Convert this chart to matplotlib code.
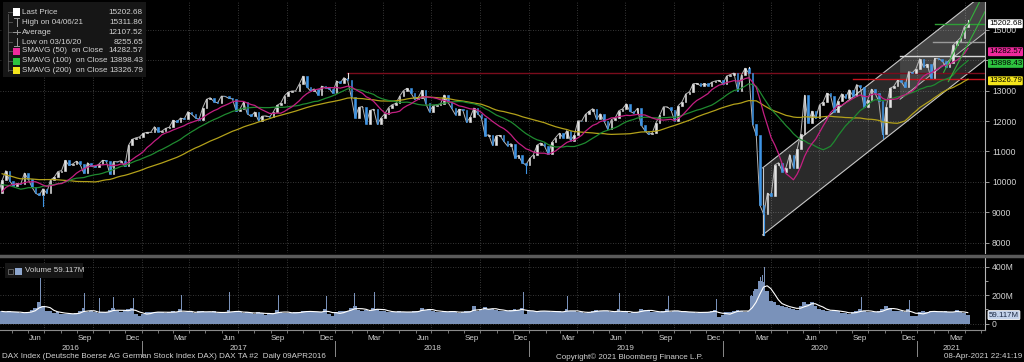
import matplotlib
matplotlib.use('Agg')
import matplotlib.pyplot as plt
import matplotlib.dates as mdates
import matplotlib.transforms as mtrans
from matplotlib.patches import Rectangle, Polygon
from matplotlib.lines import Line2D
import numpy as np
import pandas as pd

W, H = 1024, 362

# weekly closes (Friday), first value is week ending 19 Jun 2015
close_2015 = [11040, 11490,
              11060, 11320, 11670, 11350, 11310,
              11490, 10985, 10120, 10300,
              10040, 10120, 9920, 9690,
              9550, 10100, 10100, 10790, 10850,
              10990, 10710, 11120, 11290,
              10750, 10340, 10610, 10730]
close_2016 = [10740, 9850, 9545, 9765, 9800,
              9290, 8970, 9390, 9510,
              9820, 9830, 9950, 9850,
              9795, 9620, 10050, 10370, 10040,
              9870, 9950, 9920, 10290,
              10100, 9835, 9630, 9560,
              9775, 9630, 10065, 10150, 10340,
              10370, 10710, 10540, 10590,
              10680, 10575, 10280, 10630, 10510,
              10490, 10580, 10710, 10700,
              10260, 10670, 10660, 10700,
              10510, 11200, 11400, 11450, 11480]
close_2017 = [11600, 11630, 11630, 11815,
              11650, 11670, 11760, 11800,
              12030, 11960, 12100, 12065, 12310,
              12225, 12110, 12050, 12440,
              12715, 12770, 12640, 12600,
              12820, 12815, 12750, 12730, 12325,
              12390, 12630, 12240, 12160,
              12300, 12015, 12165, 12170,
              12140, 12300, 12520, 12590, 12830,
              12955, 12990, 12990, 13220,
              13480, 13130, 12990, 13060,
              12860, 13150, 13100, 13070, 12920]
close_2018 = [13320, 13245, 13430, 13340,
              12790, 12110, 12450, 12480,
              11910, 12350, 12390, 11890, 12100,
              12240, 12440, 12540, 12580,
              12820, 13000, 13080, 12940,
              12720, 12770, 13010, 12580, 12310,
              12500, 12540, 12560, 12860,
              12620, 12420, 12210, 12390, 12360,
              11960, 12120, 12430, 12250,
              12110, 11520, 11550, 11200,
              11520, 11530, 11340, 11190, 11260,
              10790, 10870, 10630, 10560]
close_2019 = [10770, 10890, 11210, 11280,
              11180, 10910, 11300, 11460,
              11600, 11460, 11690, 11360, 11530,
              12010, 12000, 12220, 12320,
              12410, 12060, 12240, 12010, 11730,
              12050, 12100, 12340, 12400,
              12570, 12320, 12260, 12420,
              11870, 11690, 11560, 11610, 11940,
              12190, 12470, 12470, 12380,
              12010, 12510, 12630, 12890,
              12960, 13230, 13240, 13160, 13240,
              13170, 13280, 13320, 13340]
close_2020 = [13220, 13480, 13530, 13580, 12980,
              13510, 13740, 13580, 11890,
              11540, 9230, 8930, 9630,
              9530, 10560, 10630, 10340,
              10470, 10900, 10470, 11070, 11590,
              12850, 11950, 12330, 12090,
              12530, 12630, 12920, 12840, 12310,
              12670, 12900, 12760, 13030,
              12840, 13200, 13120, 12470,
              12690, 13050, 12910, 12650, 11560,
              12480, 13080, 13140, 13340,
              13300, 13110, 13630, 13590]
close_2021 = [13720, 14050, 13790, 13870, 13430,
              14060, 14050, 13990, 13790,
              13920, 14500, 14620, 14750,
              15110, 15202.68]

# weekly extremes that stick out of the candle bodies
wick_low_dates = ['2016-07-01', '2018-12-28', '2020-03-20', '2020-10-30']
wick_low_values = [9214, 10280, 8255.65, 11450]
wick_high_dates = ['2018-01-26', '2020-02-21', '2021-04-09']
wick_high_values = [13597, 13795, 15311.86]

# weekly volume in millions, from week ending 15 Apr 2016
vol_2016 = [85, 80, 85,
            78, 80, 75, 72,
            82, 95, 110, 150,
            120, 90, 85, 75, 80,
            70, 68, 65, 70,
            72, 85, 110, 80, 85,
            80, 75, 78, 82,
            95, 110, 85, 80,
            95, 100, 110, 65, 50]
vol_2017 = [70, 80, 78, 80,
            82, 78, 76, 80,
            85, 82, 100, 80, 78,
            82, 75, 88, 85,
            80, 78, 85, 72,
            75, 78, 95, 80, 85,
            80, 75, 78, 72,
            70, 80, 72, 62,
            68, 72, 95, 80, 75,
            72, 75, 78, 82,
            85, 90, 82, 78,
            80, 82, 105, 70, 50]
vol_2018 = [80, 85, 90, 88,
            110, 125, 95, 85,
            95, 90, 110, 105, 90,
            85, 80, 82, 80,
            85, 80, 78, 82,
            85, 88, 110, 95, 100,
            85, 80, 82, 90,
            78, 85, 82, 75, 78,
            85, 88, 120, 90,
            95, 115, 100, 105,
            95, 90, 88, 85, 92,
            100, 95, 110, 70]
vol_2019 = [85, 90, 88, 85,
            88, 85, 80, 82,
            85, 80, 100, 90, 85,
            80, 78, 75, 80,
            90, 95, 88, 85, 90,
            80, 78, 100, 80,
            78, 75, 80, 82,
            100, 95, 90, 82, 78,
            80, 85, 100, 82,
            88, 85, 80, 82,
            78, 80, 75, 78, 80,
            82, 88, 95, 45]
vol_2020 = [60, 78, 80, 85, 95,
            90, 80, 85, 190,
            240, 300, 290, 230,
            160, 150, 130, 120,
            115, 110, 105, 95, 120,
            150, 135, 150, 120,
            100, 95, 90, 88, 95,
            85, 75, 72, 70,
            80, 85, 100, 90,
            82, 78, 80, 85, 100,
            120, 110, 90, 85,
            88, 82, 100, 55]
vol_2021 = [50, 80, 85, 80, 90,
            85, 78, 80, 85,
            80, 78, 95, 80,
            72, 59.117]

# single-day volume spikes (millions)
spike_dates = ['2016-06-24', '2016-09-16', '2016-10-14', '2016-11-09', '2016-12-16',
               '2017-03-17', '2017-06-16', '2017-09-15', '2017-12-15', '2018-02-06',
               '2018-03-16', '2018-06-15', '2018-09-21', '2018-12-21', '2019-03-15',
               '2019-06-21', '2019-09-20', '2019-12-20', '2020-02-24', '2020-02-28',
               '2020-03-09', '2020-03-12', '2020-03-16', '2020-03-20', '2020-06-19',
               '2020-09-18', '2020-11-09', '2020-12-18', '2021-03-19']
spike_values = [328, 216, 180, 188, 181,
                200, 223, 200, 193, 213,
                220, 265, 415, 223, 195,
                214, 195, 172, 200, 230,
                290, 330, 340, 395, 230,
                186, 193, 165, 207]

# annotation levels drawn on the chart
level_starts = ['2018-01-23', '2020-09-03', '2020-11-30', '2021-01-31', '2021-02-04']
level_values = [13597, 13380, 14140, 14600, 15190]
level_colors = ['#7a0c1c', '#c8121c', '#d8d8d8', '#9a9a9a', '#2e9e36']

# trend channels
chan_dates = ['2020-03-16', '2021-05-09']
chan_low = [8255.65, 14012]
chan_high = [10460, 16217]
inner_dates = ['2020-11-30', '2021-05-09']
inner_low = [12719, 14917]
inner_high = [14019, 16217]
green_a_dates = ['2021-02-20', '2021-05-01']
green_a = [13600, 16000]
green_b_dates = ['2021-03-01', '2021-05-09']
green_b = [13300, 15600]

legend_names = ['Last Price', 'High on 04/06/21', 'Average', 'Low on 03/16/20',
                'SMAVG (50)  on Close', 'SMAVG (100)  on Close', 'SMAVG (200)  on Close']
legend_values = ['15202.68', '15311.86', '12107.52', '8255.65',
                 '14282.57', '13898.43', '13326.79']

FS = 5.8
TXT = '#d2d2d2'
GRID = '#4a4a4a'
UP, DOWN = '#e4e4e4', '#3e95e6'
C50, C100, C200 = '#c41f82', '#1f8a30', '#b3a11a'

plt.rcParams['font.family'] = ['Liberation Sans', 'DejaVu Sans']


def fx(x):
    return x / W


def fy(y):
    return 1 - y / H


close = close_2015 + close_2016 + close_2017 + close_2018 + close_2019 + close_2020 + close_2021
dates = pd.date_range('2015-06-19', periods=len(close), freq='W-FRI')
s = pd.Series(close, index=dates)
sma50 = s.rolling(10).mean()
sma100 = s.rolling(20).mean()
sma200 = s.rolling(40).mean()

start = pd.Timestamp('2016-04-09')
end = pd.Timestamp('2021-05-09')
vis = dates > start

fig = plt.figure(figsize=(W / 100, H / 100), dpi=100, facecolor='black')
ax = fig.add_axes([0, fy(253), fx(985), (253 - 2) / H], facecolor='black')
axv = fig.add_axes([0, fy(330), fx(985), (330 - 258) / H], facecolor='black')

# candles (open = previous close)
dn = mdates.date2num(dates)
opens = np.r_[np.nan, np.array(close[:-1], dtype=float)]
closes = np.array(close, dtype=float)
idx = np.where(vis)[0]
ax.plot(dn[idx[0] - 1:] - 2, closes[idx[0] - 1:], color='#b8b8b8', lw=0.7, zorder=4)
cols = [UP if closes[i] >= opens[i] else DOWN for i in idx]
ax.bar(dn[idx] - 2, closes[idx] - opens[idx], bottom=opens[idx], width=3.0,
       color=cols, edgecolor=cols, linewidth=0.4, zorder=4)
for d, v in zip(wick_low_dates, wick_low_values):
    i = dates.get_loc(pd.Timestamp(d))
    ax.plot([dn[i] - 2] * 2, [v, min(opens[i], closes[i])], color=DOWN, lw=0.8, zorder=4)
for d, v in zip(wick_high_dates, wick_high_values):
    i = dates.get_loc(pd.Timestamp(d))
    ax.plot([dn[i] - 2] * 2, [max(opens[i], closes[i]), v], color=UP, lw=0.8, zorder=4)

for ser, c in [(sma200, C200), (sma100, C100), (sma50, C50)]:
    ax.plot(dn[vis] - 2, ser[vis].values, color=c, lw=0.9, zorder=5)

# channels
cd = mdates.date2num(pd.to_datetime(chan_dates))
ax.add_patch(Polygon([(cd[0], chan_low[0]), (cd[1], chan_low[1]),
                      (cd[1], chan_high[1]), (cd[0], chan_high[0])],
                     closed=True, facecolor='white', alpha=0.17, edgecolor='none', zorder=2))
ax.plot(cd, chan_low, color='#c8c8c8', lw=0.8, zorder=3)
ax.plot(cd, chan_high, color='#c8c8c8', lw=0.8, zorder=3)
ax.plot([cd[0], cd[0]], [chan_low[0], chan_high[0]], color='#c8c8c8', lw=0.8, zorder=3)
idd = mdates.date2num(pd.to_datetime(inner_dates))
ax.add_patch(Polygon([(idd[0], inner_low[0]), (idd[1], inner_low[1]),
                      (idd[1], inner_high[1]), (idd[0], inner_high[0])],
                     closed=True, facecolor='white', alpha=0.12, edgecolor='none', zorder=2))
ax.plot(idd, inner_low, color='#bdbdbd', lw=0.7, zorder=3)
for gd, gv in [(green_a_dates, green_a), (green_b_dates, green_b)]:
    ax.plot(mdates.date2num(pd.to_datetime(gd)), gv, color='#35b03c', lw=0.8, zorder=6)

for d, v, c in zip(level_starts, level_values, level_colors):
    ax.plot([mdates.date2num(pd.Timestamp(d)), mdates.date2num(end)], [v, v],
            color=c, lw=1.0, zorder=3)

ax.set_xlim(mdates.date2num(start), mdates.date2num(end))
ax.set_ylim(7661, 15918)
axv.set_xlim(mdates.date2num(start), mdates.date2num(end))
axv.set_ylim(-45.6, 460)

# grids
quarters = pd.date_range('2016-07-01', end, freq='QS')
for q in quarters:
    for a in (ax, axv):
        a.axvline(mdates.date2num(q), color=GRID, lw=0.6, ls=(0, (1, 2)), zorder=1)
for p in range(8000, 16000, 1000):
    ax.axhline(p, color=GRID, lw=0.6, ls=(0, (1, 2)), zorder=1)
for v in (0, 200, 400):
    axv.axhline(v, color=GRID, lw=0.6, ls=(0, (1, 2)), zorder=1)

# volume
vol = vol_2016 + vol_2017 + vol_2018 + vol_2019 + vol_2020 + vol_2021
vdates = pd.date_range('2016-04-15', periods=len(vol), freq='W-FRI')
vdn = mdates.date2num(vdates)
VCOL = '#7a92ba'
axv.bar(vdn - 2.5, vol, width=7.2, color=VCOL, linewidth=0, zorder=3)
sdn = mdates.date2num(pd.to_datetime(spike_dates))
axv.bar(sdn, spike_values, width=1.6, color=VCOL, linewidth=0, zorder=3)
vma = pd.Series(vol).rolling(4, min_periods=1).mean()
axv.plot(vdn - 2.5, vma, color='white', lw=0.8, zorder=4)

# axes styling
for a in (ax, axv):
    for sp in ('top', 'left', 'bottom'):
        a.spines[sp].set_visible(False)
    a.spines['right'].set_color('#b5b5b5')
    a.spines['right'].set_linewidth(0.8)
    a.yaxis.tick_right()
    a.tick_params(axis='y', colors='#b5b5b5', labelcolor=TXT, labelsize=6.2,
                  length=3, width=0.6, pad=2)
ax.set_yticks(range(8000, 16000, 1000))
# 14000 sits under the green tag in the reference
ax.set_yticklabels(['' if v == 14000 else str(v) for v in range(8000, 16000, 1000)])
ax.tick_params(axis='x', bottom=False, labelbottom=False)
axv.set_yticks([0, 200, 400])
axv.set_yticklabels(['0', '200M', '400M'])
axv.set_yticks([100, 300], minor=True)
axv.tick_params(axis='y', which='minor', colors='#b5b5b5', length=2, width=0.6)
axv.spines['bottom'].set_visible(True)
axv.spines['bottom'].set_color('#8a8a8a')
months = pd.date_range('2016-05-01', end, freq='MS')
axv.set_xticks(mdates.date2num(months), minor=True)
axv.set_xticks([])
axv.tick_params(axis='x', which='minor', colors='#8a8a8a', length=2.5, width=0.6)

blend = mtrans.blended_transform_factory(axv.transData, axv.transAxes)
for m in months:
    if m.month in (3, 6, 9, 12):
        mid = m + pd.Timedelta(days=14)
        axv.text(mdates.date2num(mid), -0.12, m.strftime('%b'), transform=blend,
                 ha='center', va='center', fontsize=FS, color=TXT)
years = range(2016, 2022)
for y in years:
    y0 = max(pd.Timestamp(f'{y}-01-01'), start)
    y1 = min(pd.Timestamp(f'{y + 1}-01-01'), end)
    axv.text(mdates.date2num(y0 + (y1 - y0) / 2), -0.26, str(y), transform=blend,
             ha='center', va='center', fontsize=FS, color=TXT)
    if y > 2016:
        axv.plot([mdates.date2num(pd.Timestamp(f'{y}-01-01'))] * 2, [-0.15, -0.36],
                 transform=blend, color='#8a8a8a', lw=0.7, clip_on=False)

# separator between panels
fig.add_artist(Line2D([0, 1], [fy(255.5), fy(255.5)], transform=fig.transFigure,
                      color='#5a5a5a', lw=2.5))

# right-hand value tags
tags = [(15202.68, '15202.68', 'white'), (14282.57, '14282.57', '#ee2a9c'),
        (13898.43, '13898.43', '#2ec23f'), (13326.79, '13326.79', '#f4e51c')]
bt = mtrans.blended_transform_factory(ax.transAxes, ax.transData)
for v, t, c in tags:
    ax.text(1.004, v, t, transform=bt, ha='left', va='center', fontsize=5.7,
            color='black', clip_on=False, zorder=10,
            bbox=dict(boxstyle='round,pad=0.12', facecolor=c, edgecolor='none'))
btv = mtrans.blended_transform_factory(axv.transAxes, axv.transData)
axv.text(1.004, 59.117, '59.117M', transform=btv, ha='left', va='center', fontsize=5.7,
         color='#1c2a44', clip_on=False, zorder=10,
         bbox=dict(boxstyle='round,pad=0.12', facecolor='#c3d2ea', edgecolor='white', lw=0.6))

# price legend
fig.add_artist(Rectangle((fx(3), fy(77)), 143 / W, 75 / H, transform=fig.transFigure,
                         facecolor='#161616', edgecolor='none'))
rows = [12, 22, 32, 42, 51, 61, 70]
marks = ['white', None, None, None, '#ee2a9c', '#2ec23f', '#f4e51c']
fig.add_artist(Line2D([fx(8), fx(8)], [fy(14), fy(71)], transform=fig.transFigure,
                      color='#5a5a5a', lw=0.6))
for ry, name, val, mk in zip(rows, legend_names, legend_values, marks):
    if mk is not None:
        fig.add_artist(Rectangle((fx(13), fy(ry + 3.5)), 7 / W, 7 / H,
                                 transform=fig.transFigure, facecolor=mk, edgecolor='none'))
    fig.add_artist(Line2D([fx(8), fx(12)], [fy(ry), fy(ry)], transform=fig.transFigure,
                          color='#5a5a5a', lw=0.6))
    fig.text(fx(22), fy(ry), name, ha='left', va='center', fontsize=FS, color=TXT)
    fig.text(fx(143), fy(ry), val, ha='right', va='center', fontsize=5.9, color=TXT)
gl = '#9a9a9a'
fig.add_artist(Line2D([fx(16.5)] * 2, [fy(18), fy(26)], transform=fig.transFigure, color=gl, lw=0.7))
fig.add_artist(Line2D([fx(14), fx(19)], [fy(18), fy(18)], transform=fig.transFigure, color=gl, lw=0.7))
fig.add_artist(Line2D([fx(13), fx(20)], [fy(32), fy(32)], transform=fig.transFigure, color=gl, lw=0.7))
fig.add_artist(Line2D([fx(16.5)] * 2, [fy(30), fy(34)], transform=fig.transFigure, color=gl, lw=0.7))
fig.add_artist(Line2D([fx(16.5)] * 2, [fy(38), fy(46)], transform=fig.transFigure, color=gl, lw=0.7))
fig.add_artist(Line2D([fx(14), fx(19)], [fy(46), fy(46)], transform=fig.transFigure, color=gl, lw=0.7))

# volume legend
fig.add_artist(Rectangle((fx(5), fy(278)), 78 / W, 15 / H, transform=fig.transFigure,
                         facecolor='#161616', edgecolor='none'))
fig.add_artist(Rectangle((fx(8), fy(273.5)), 5 / W, 5 / H, transform=fig.transFigure,
                         facecolor='none', edgecolor='#6a6a6a', lw=0.6))
fig.add_artist(Rectangle((fx(15), fy(274.5)), 7 / W, 7 / H, transform=fig.transFigure,
                         facecolor='#8ea7cf', edgecolor='none'))
fig.text(fx(25), fy(271), 'Volume 59.117M', ha='left', va='center', fontsize=FS, color=TXT)

# footer
fig.text(fx(2), fy(357), 'DAX Index (Deutsche Boerse AG German Stock Index DAX) DAX TA #2  Daily 09APR2016',
         ha='left', va='center', fontsize=FS, color=TXT)
fig.text(fx(630), fy(357), 'Copyright\u00a9 2021 Bloomberg Finance L.P.',
         ha='center', va='center', fontsize=FS, color=TXT)
fig.text(fx(1022), fy(357), '08-Apr-2021 22:41:19', ha='right', va='center',
         fontsize=FS, color=TXT)

fig.savefig('out.png', dpi=100, facecolor='black')
